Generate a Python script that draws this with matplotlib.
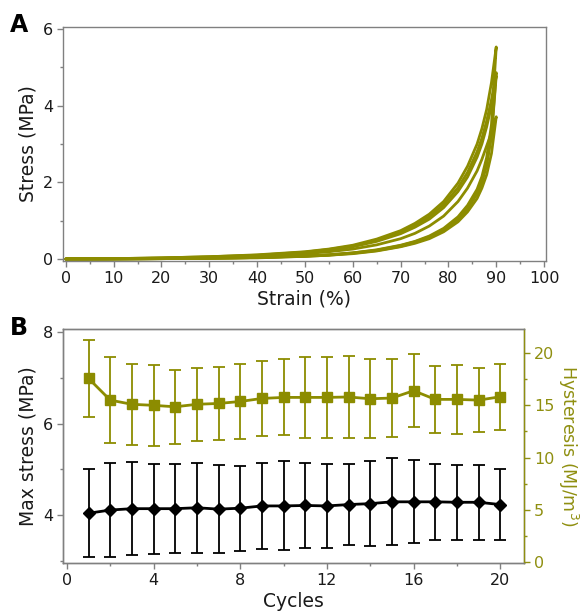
import matplotlib
matplotlib.use("Agg")
import matplotlib.pyplot as plt
from matplotlib.ticker import MultipleLocator
import numpy as np

# ---------------- Panel A data ----------------
strain = [0, 10, 20, 30, 40, 50, 55, 60, 65, 70, 73, 76, 79, 82, 84, 86, 87, 88, 89, 90]
load1 = [0, 0.01, 0.03, 0.06, 0.11, 0.19, 0.26, 0.36, 0.52, 0.74, 0.93, 1.17, 1.50, 1.98, 2.42, 3.00, 3.40, 3.90, 4.60, 5.53]
load2 = [0, 0.01, 0.03, 0.06, 0.10, 0.18, 0.25, 0.34, 0.49, 0.70, 0.88, 1.10, 1.42, 1.86, 2.26, 2.80, 3.15, 3.60, 4.15, 4.86]
load3 = [0, 0.01, 0.02, 0.05, 0.09, 0.17, 0.23, 0.32, 0.46, 0.66, 0.83, 1.04, 1.34, 1.76, 2.14, 2.66, 3.00, 3.45, 4.00, 4.78]
load4 = [0, 0.01, 0.02, 0.04, 0.08, 0.14, 0.19, 0.26, 0.37, 0.53, 0.67, 0.86, 1.12, 1.50, 1.85, 2.30, 2.60, 2.95, 3.30, 3.71]
unload1 = [0, 0, 0.01, 0.02, 0.04, 0.08, 0.11, 0.16, 0.24, 0.36, 0.46, 0.60, 0.80, 1.10, 1.40, 1.82, 2.15, 2.65, 3.50, 5.53]
unload2 = [0, 0, 0.01, 0.02, 0.04, 0.08, 0.11, 0.16, 0.23, 0.35, 0.45, 0.58, 0.77, 1.06, 1.35, 1.75, 2.05, 2.50, 3.25, 4.86]
unload3 = [0, 0, 0.01, 0.02, 0.04, 0.07, 0.10, 0.15, 0.22, 0.33, 0.43, 0.56, 0.75, 1.03, 1.31, 1.70, 2.00, 2.45, 3.20, 4.78]
unload4 = [0, 0, 0.01, 0.02, 0.03, 0.07, 0.10, 0.14, 0.21, 0.32, 0.41, 0.53, 0.71, 0.97, 1.23, 1.58, 1.85, 2.20, 2.75, 3.71]

# ---------------- Panel B data ----------------
cycles = list(range(1, 21))
max_stress = [4.04, 4.11, 4.14, 4.14, 4.14, 4.16, 4.13, 4.15, 4.20, 4.20,
              4.21, 4.20, 4.23, 4.25, 4.29, 4.29, 4.29, 4.28, 4.28, 4.23]
max_stress_err = [0.965, 1.02, 1.02, 0.985, 0.975, 0.98, 0.96, 0.93, 0.95, 0.975,
                  0.925, 0.92, 0.88, 0.925, 0.95, 0.91, 0.83, 0.82, 0.825, 0.775]
hysteresis = [17.58, 15.50, 15.10, 15.00, 14.86, 15.10, 15.18, 15.37, 15.66, 15.76,
              15.76, 15.76, 15.80, 15.63, 15.70, 16.40, 15.57, 15.57, 15.50, 15.82]
hysteresis_err = [3.72, 4.10, 3.85, 3.90, 3.54, 3.50, 3.52, 3.58, 3.61, 3.64,
                  3.84, 3.84, 3.90, 3.77, 3.70, 3.50, 3.18, 3.33, 3.10, 3.18]

OLIVE = "#8c8c00"
OLIVE_TXT = "#8f8f10"
GRAY = "#808080"
TXT = "#1a1a1a"

plt.rcParams['font.family'] = ['DejaVu Sans']
fig = plt.figure(figsize=(5.83, 6.14), dpi=100)

def style_axes(ax):
    for s in ax.spines.values():
        s.set_color(GRAY)
        s.set_linewidth(1.0)
    ax.tick_params(which='major', direction='out', length=4, width=1, color=GRAY,
                   labelsize=11.5, labelcolor=TXT, pad=3)
    ax.tick_params(which='minor', direction='out', length=2.5, width=1, color=GRAY)

# ---- Panel A ----
axA = fig.add_axes([0.108, 0.575, 0.8285, 0.381])
x_loop = strain + strain[::-1]
for ld, ul in [(load1, unload1), (load2, unload2), (load3, unload3), (load4, unload4)]:
    axA.plot(x_loop, ld + ul[::-1], color=OLIVE, lw=2.0, solid_capstyle='round',
             solid_joinstyle='round')
axA.set_xlim(-0.6, 100.4)
axA.set_ylim(-0.05, 6.05)
axA.xaxis.set_major_locator(MultipleLocator(10))
axA.xaxis.set_minor_locator(MultipleLocator(5))
axA.yaxis.set_major_locator(MultipleLocator(2))
axA.yaxis.set_minor_locator(MultipleLocator(1))
style_axes(axA)
axA.set_xlabel("Strain (%)", fontsize=13.5, color=TXT, labelpad=3)
axA.set_ylabel("Stress (MPa)", fontsize=13.5, color=TXT, labelpad=4)
fig.text(0.017, 0.948, "A", fontsize=17, fontweight='bold', color='black')

# ---- Panel B ----
axB = fig.add_axes([0.108, 0.083, 0.791, 0.381])
axB2 = axB.twinx()
axB.errorbar(cycles, max_stress, yerr=max_stress_err, color='black', lw=2,
             marker='D', ms=6.5, elinewidth=1.3, capsize=4.5, capthick=1.3, zorder=3)
axB2.errorbar(cycles, hysteresis, yerr=hysteresis_err, color=OLIVE, lw=2,
              marker='s', ms=7, elinewidth=1.3, capsize=4.5, capthick=1.3, zorder=3)
axB.set_xlim(-0.18, 21.1)
axB.set_ylim(2.95, 8.07)
axB2.set_ylim(-0.1, 22.3)
axB.xaxis.set_major_locator(MultipleLocator(4))
axB.xaxis.set_minor_locator(MultipleLocator(2))
axB.yaxis.set_major_locator(MultipleLocator(2))
axB.yaxis.set_minor_locator(MultipleLocator(1))
axB2.yaxis.set_major_locator(MultipleLocator(5))
axB2.yaxis.set_minor_locator(MultipleLocator(2.5))
style_axes(axB)
style_axes(axB2)
axB2.spines['right'].set_color(OLIVE_TXT)
axB2.tick_params(axis='y', which='both', color=OLIVE_TXT, labelcolor=OLIVE_TXT)
axB.set_xlabel("Cycles", fontsize=13.5, color=TXT, labelpad=3)
axB.set_ylabel("Max stress (MPa)", fontsize=13.5, color=TXT, labelpad=4)
axB2.set_ylabel("Hysteresis (MJ/m$^3$)", fontsize=12.5, color=OLIVE_TXT,
                rotation=270, va='bottom', labelpad=1)
fig.text(0.017, 0.455, "B", fontsize=17, fontweight='bold', color='black')

fig.savefig("out.png", dpi=100)
